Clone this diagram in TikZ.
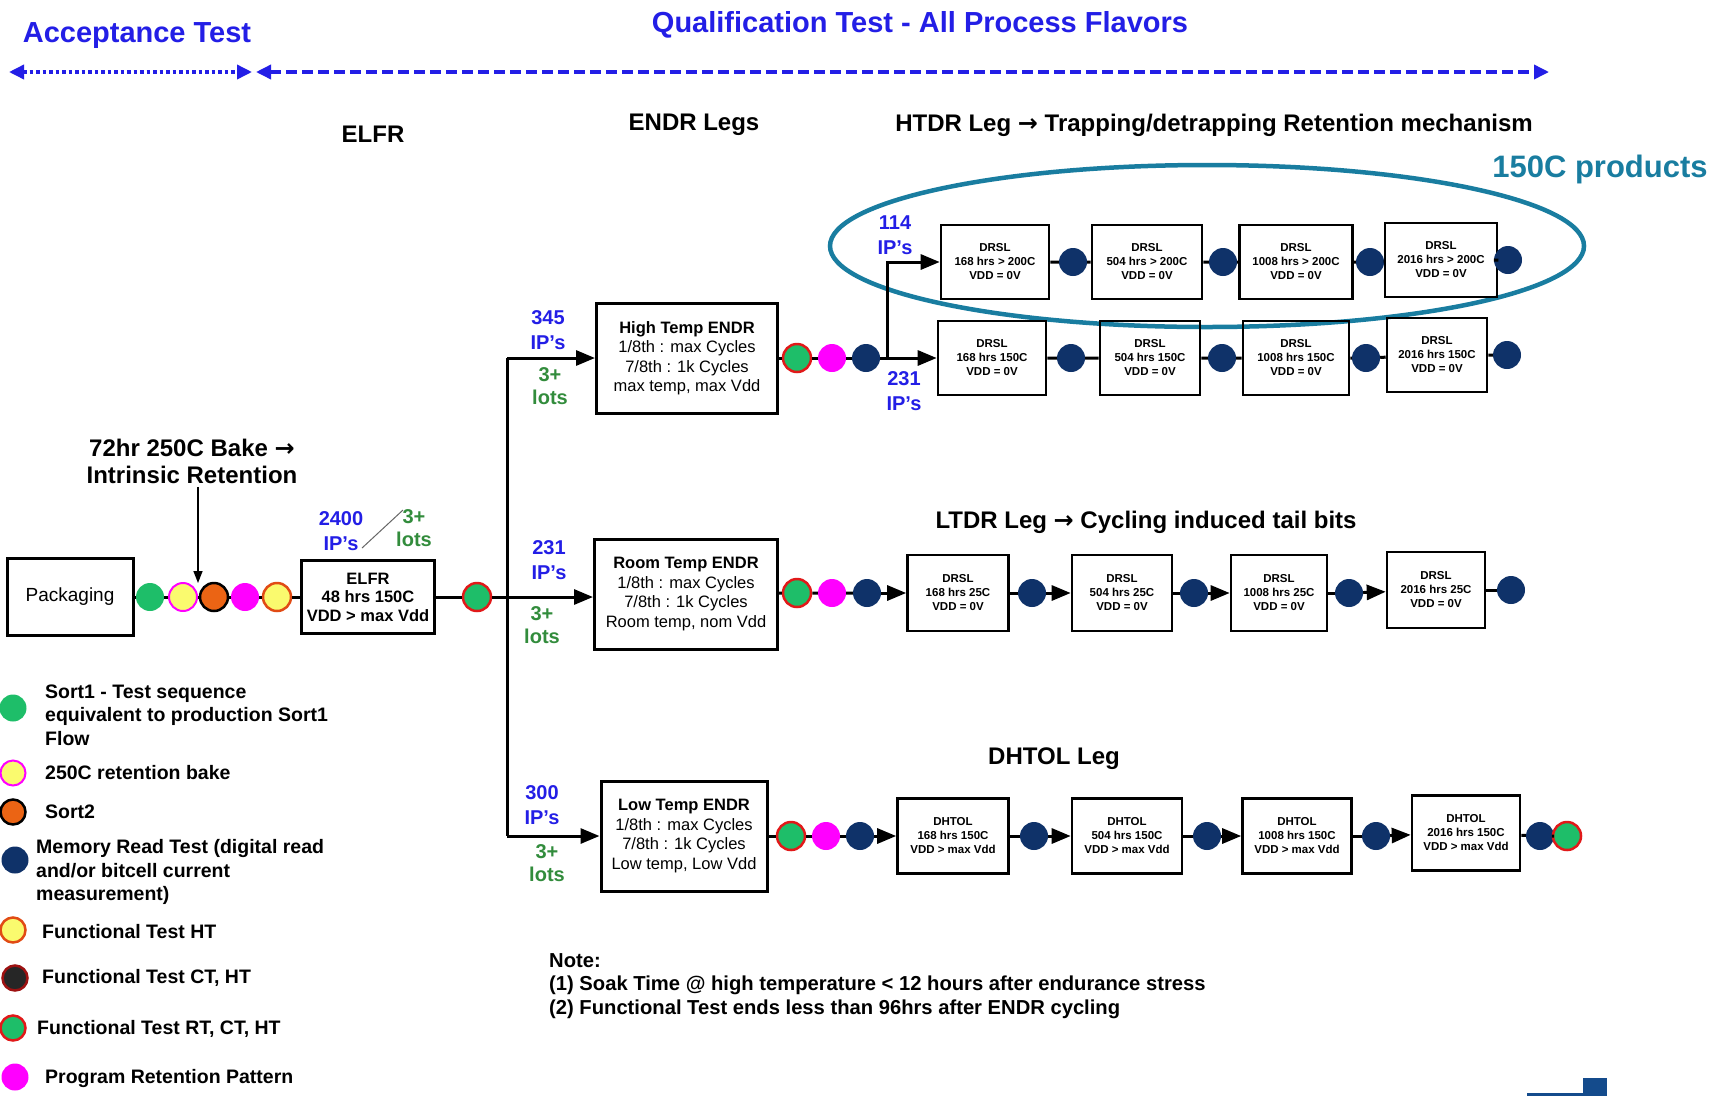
\documentclass[tikz,border=0pt]{standalone}
\usepackage{fontspec}
\setmainfont{Liberation Sans}
\newfontfamily\arrowfont{DejaVu Sans}
\usetikzlibrary{arrows.meta, positioning}

\definecolor{sortgreen}{RGB}{30,190,105}
\definecolor{bakeyellow}{RGB}{250,250,110}
\definecolor{sortorange}{RGB}{235,100,20}
\definecolor{readnavy}{RGB}{15,50,105}
\definecolor{patmagenta}{RGB}{255,0,255}
\definecolor{ftred}{RGB}{225,25,25}
\definecolor{ftorange}{RGB}{225,75,20}
\definecolor{titleblue}{RGB}{35,30,230}
\definecolor{lotgreen}{RGB}{50,140,60}
\definecolor{prodteal}{RGB}{25,125,160}
\definecolor{logoblue}{RGB}{20,75,140}

\newcommand{\legto}{{\arrowfont\bfseries →}}

\tikzset{
  toptitle/.style={text=titleblue, font=\bfseries\fontsize{29}{34}\selectfont},
  head/.style={font=\bfseries\fontsize{24}{28}\selectfont},
  scopearrow/.style={titleblue, line width=3.5pt, {Triangle[length=15pt,width=14pt]}-{Triangle[length=15pt,width=14pt]}},
  bigbox/.style={draw, line width=3pt, minimum height=110pt, align=center, font=\fontsize{16.5}{19.5}\selectfont},
  drsl/.style={draw, line width=2.6pt, minimum height=74pt, align=center, inner sep=2pt, font=\bfseries\fontsize{11.5}{14}\selectfont},
  dot/.style={circle, inner sep=0pt, minimum size=28pt},
  sortone/.style={dot, fill=sortgreen},
  bake/.style={dot, fill=bakeyellow, draw=patmagenta, line width=2pt},
  sorttwo/.style={dot, fill=sortorange, draw=black, line width=2.5pt},
  memread/.style={dot, fill=readnavy},
  fht/.style={dot, fill=bakeyellow, draw=ftorange, line width=2.5pt},
  fctht/.style={dot, fill=black!85, draw=ftred!70!black, line width=2.5pt},
  fall/.style={dot, fill=sortgreen, draw=ftred, line width=2.5pt},
  retpat/.style={dot, fill=patmagenta},
  link/.style={line width=3pt},
  flow/.style={link, -{Triangle[length=19pt,width=15pt]}},
  ips/.style={text=titleblue, align=center, font=\bfseries\fontsize{20}{24.5}\selectfont},
  lots/.style={text=lotgreen, align=center, font=\bfseries\fontsize{20}{23}\selectfont},
  keytext/.style={anchor=west, align=left, inner sep=0pt, font=\bfseries\fontsize{19.5}{23.5}\selectfont}
}

\begin{document}
\begin{tikzpicture}[x=1pt, y=-1pt]
  \fill[white] (0,0) rectangle (1720,1096);
  \useasboundingbox (0,0) rectangle (1720,1096);

  \node[toptitle] (acc) at (137,36) {Acceptance Test};
  \node[toptitle] (qual) at (920,25) {Qualification Test - All Process Flavors};
  \coordinate (al) at (9,72);
  \coordinate (ar) at (252,72);
  \coordinate (ql) at (256,72);
  \coordinate (qr) at (1549,72);
  \draw[scopearrow, dash pattern=on 3.5pt off 3pt] (al) -- (ar);
  \draw[scopearrow, dash pattern=on 11pt off 5pt] (ql) -- (qr);

  \node[head] (helfr) at (373,134) {ELFR};
  \node[head] (hendr) at (694,125) {ENDR Legs};
  \node[head] (hhtdr) at (1214,125) {HTDR Leg \legto\ Trapping/detrapping Retention mechanism};
  \node[head] (hltdr) at (1146,522) {LTDR Leg \legto\ Cycling induced tail bits};
  \node[head] (hdhtol) at (1054,759) {DHTOL Leg};
  \node[text=prodteal, font=\bfseries\fontsize{31}{36}\selectfont] (prod) at (1600,169) {150C products};
  \draw[prodteal, line width=4.5pt] (1207,246) ellipse [x radius=377pt, y radius=81pt];

  \node[draw, line width=3pt, minimum width=126pt, minimum height=77pt, font=\fontsize{19}{23}\selectfont] (pk) at (70,597) {Packaging};
  \node[sortone] (p1) at (150,597) {};
  \node[bake] (p2) at (183,597) {};
  \node[sorttwo] (p3) at (214,597) {};
  \node[retpat] (p4) at (245,597) {};
  \node[fht] (p5) at (277,597) {};
  \node[draw, line width=3pt, minimum width=133pt, minimum height=73pt, align=center, font=\bfseries\fontsize{16.5}{18.5}\selectfont] (elfr) at (368,597) {ELFR\\48 hrs 150C\\VDD > max Vdd};
  \node[fall] (p6) at (477,597) {};
  \node[align=center, font=\bfseries\fontsize{24}{27}\selectfont] (bk) at (192,461) {72hr 250C Bake \legto\\Intrinsic Retention};
  \coordinate (bt) at (198,583);
  \draw[line width=1.5pt, -{Triangle[length=12pt,width=9pt]}] (bk.south -| bt) -- (bt);
  \node[ips] (n2400) at (341,531) {2400\\IP’s};
  \node[lots] (l2400) at (414,528) {3+\\lots};
  \draw[line width=1pt, black!60] (362,548) -- (403,510);

  \coordinate (j1) at (507,358);
  \coordinate (j2) at (507,597);
  \coordinate (j3) at (507,836);
  \node[bigbox, minimum width=181pt] (ht) at (687,358) {\textbf{High Temp ENDR}\\1/8th : max Cycles\\7/8th : 1k Cycles\\max temp, max Vdd};
  \node[bigbox, minimum width=183pt] (rt) at (686,594) {\textbf{Room Temp ENDR}\\1/8th : max Cycles\\7/8th : 1k Cycles\\Room temp, nom Vdd};
  \node[bigbox, minimum width=166pt] (lt) at (684,836) {\textbf{Low Temp ENDR}\\1/8th : max Cycles\\7/8th : 1k Cycles\\Low temp, Low Vdd};
  \node[ips] (n345) at (548,330) {345\\IP’s};
  \node[lots] (l345) at (550,386) {3+\\lots};
  \node[ips] (n231) at (549,560) {231\\IP’s};
  \node[lots] (l231) at (542,625) {3+\\lots};
  \node[ips] (n300) at (542,805) {300\\IP’s};
  \node[lots] (l300) at (547,863) {3+\\lots};

  \draw[link] (pk) -- (p1) -- (p2) -- (p3) -- (p4) -- (p5) -- (elfr) -- (p6) -- (j2);
  \draw[flow] (j2) -- (j2 -| rt.west);
  \draw[link] (j1) -- (j3);
  \draw[flow] (j1) -- (ht);
  \draw[flow] (j3) -- (lt);

  \node[fall] (a1) at (797,358) {};
  \node[retpat] (a2) at (832,358) {};
  \node[memread] (a3) at (866,358) {};
  \coordinate (b1) at (887,358);
  \coordinate (b2) at (887,262);
  \node[ips] (n114) at (895,235) {114\\IP’s};
  \node[ips] (n231h) at (904,391) {231\\IP’s};

  \node[drsl, minimum width=108pt] (h1) at (995,262) {DRSL\\168 hrs > 200C\\VDD = 0V};
  \node[memread] (hd1) at (1073,262) {};
  \node[drsl, minimum width=110pt] (h2) at (1147,262) {DRSL\\504 hrs > 200C\\VDD = 0V};
  \node[memread] (hd2) at (1223,262) {};
  \node[drsl, minimum width=113pt] (h3) at (1296,262) {DRSL\\1008 hrs > 200C\\VDD = 0V};
  \node[memread] (hd3) at (1370,262) {};
  \node[drsl, minimum width=112pt] (h4) at (1441,260) {DRSL\\2016 hrs > 200C\\VDD = 0V};
  \node[memread] (hd4) at (1508,260) {};

  \node[drsl, minimum width=108pt] (g1) at (992,358) {DRSL\\168 hrs 150C\\VDD = 0V};
  \node[memread] (gd1) at (1071,358) {};
  \node[drsl, minimum width=100pt] (g2) at (1150,358) {DRSL\\504 hrs 150C\\VDD = 0V};
  \node[memread] (gd2) at (1222,358) {};
  \node[drsl, minimum width=106pt] (g3) at (1296,358) {DRSL\\1008 hrs 150C\\VDD = 0V};
  \node[memread] (gd3) at (1366,358) {};
  \node[drsl, minimum width=100pt] (g4) at (1437,355) {DRSL\\2016 hrs 150C\\VDD = 0V};
  \node[memread] (gd4) at (1507,355) {};

  \draw[link] (ht) -- (a1) -- (a2) -- (a3) -- (b1);
  \draw[flow] (b1) -- (g1);
  \draw[flow] (b1) -- (b2) -- (h1);
  \draw[link] (h1) -- (hd1) -- (h2) -- (hd2) -- (h3) -- (hd3) -- (h4) -- (hd4);
  \draw[link] (g1) -- (gd1) -- (g2) -- (gd2) -- (g3) -- (gd3) -- (g4) -- (gd4);

  \node[fall] (c1) at (797,593) {};
  \node[retpat] (c2) at (832,593) {};
  \node[memread] (c3) at (867,593) {};
  \node[drsl, minimum width=101pt, minimum height=76pt] (l1) at (958,593) {DRSL\\168 hrs 25C\\VDD = 0V};
  \node[memread] (ld1) at (1032,593) {};
  \node[drsl, minimum width=100pt, minimum height=76pt] (l2) at (1122,593) {DRSL\\504 hrs 25C\\VDD = 0V};
  \node[memread] (ld2) at (1194,593) {};
  \node[drsl, minimum width=96pt, minimum height=76pt] (l3) at (1279,593) {DRSL\\1008 hrs 25C\\VDD = 0V};
  \node[memread] (ld3) at (1349,593) {};
  \node[drsl, minimum width=98pt, minimum height=76pt] (l4) at (1436,590) {DRSL\\2016 hrs 25C\\VDD = 0V};
  \node[memread] (ld4) at (1511,590) {};

  \draw[link] (rt) -- (c1) -- (c2) -- (c3);
  \draw[flow] (c3) -- (l1);
  \draw[link] (l1) -- (ld1);
  \draw[flow] (ld1) -- (l2);
  \draw[link] (l2) -- (ld2);
  \draw[flow] (ld2) -- (l3);
  \draw[link] (l3) -- (ld3);
  \draw[flow] (ld3) -- (l4);
  \draw[link] (l4) -- (ld4);

  \node[fall] (e1) at (791,836) {};
  \node[retpat] (e2) at (826,836) {};
  \node[memread] (e3) at (860,836) {};
  \node[drsl, minimum width=111pt, minimum height=75pt] (t1) at (953,836) {DHTOL\\168 hrs 150C\\VDD > max Vdd};
  \node[memread] (td1) at (1034,836) {};
  \node[drsl, minimum width=110pt, minimum height=75pt] (t2) at (1127,836) {DHTOL\\504 hrs 150C\\VDD > max Vdd};
  \node[memread] (td2) at (1207,836) {};
  \node[drsl, minimum width=109pt, minimum height=75pt] (t3) at (1297,836) {DHTOL\\1008 hrs 150C\\VDD > max Vdd};
  \node[memread] (td3) at (1376,836) {};
  \node[drsl, minimum width=108pt, minimum height=75pt] (t4) at (1466,833) {DHTOL\\2016 hrs 150C\\VDD > max Vdd};
  \node[memread] (td4) at (1540,836) {};
  \node[fall] (tf) at (1567,836) {};

  \draw[link] (lt) -- (e1) -- (e2) -- (e3);
  \draw[flow] (e3) -- (t1);
  \draw[link] (t1) -- (td1);
  \draw[flow] (td1) -- (t2);
  \draw[link] (t2) -- (td2);
  \draw[flow] (td2) -- (t3);
  \draw[link] (t3) -- (td3);
  \draw[flow] (td3) -- (t4);
  \draw[link] (t4) -- (td4) -- (tf);

  \node[sortone, minimum size=27pt] (k1) at (13,708) {};
  \node[bake, minimum size=25pt] (k2) at (13,773) {};
  \node[sorttwo, minimum size=25pt] (k3) at (13,812) {};
  \node[memread, minimum size=27pt] (k4) at (15,860) {};
  \node[fht, minimum size=25pt] (k5) at (13,930) {};
  \node[fctht, minimum size=25pt] (k6) at (15,978) {};
  \node[fall, minimum size=25pt] (k7) at (13,1028) {};
  \node[retpat, minimum size=27pt] (k8) at (15,1077) {};
  \node[keytext] (kt1) at (45,715) {Sort1 - Test sequence\\equivalent to production Sort1\\Flow};
  \node[keytext] (kt2) at (45,773) {250C retention bake};
  \node[keytext] (kt3) at (45,812) {Sort2};
  \node[keytext] (kt4) at (36,872) {Memory Read Test (digital read\\and/or bitcell current\\measurement)};
  \node[keytext] (kt5) at (42,932) {Functional Test HT};
  \node[keytext] (kt6) at (42,978) {Functional Test CT, HT};
  \node[keytext] (kt7) at (37,1029) {Functional Test RT, CT, HT};
  \node[keytext] (kt8) at (45,1078) {Program Retention Pattern};

  \node[keytext, font=\bfseries\fontsize{20.2}{23.5}\selectfont] (note) at (549,986) {Note:\\(1) Soak Time @ high temperature < 12 hours after endurance stress\\(2) Functional Test ends less than 96hrs after ENDR cycling};

  \fill[logoblue] (1583,1078) rectangle (1607,1096);
  \fill[logoblue] (1527,1093) rectangle (1583,1096);
\end{tikzpicture}
\end{document}
